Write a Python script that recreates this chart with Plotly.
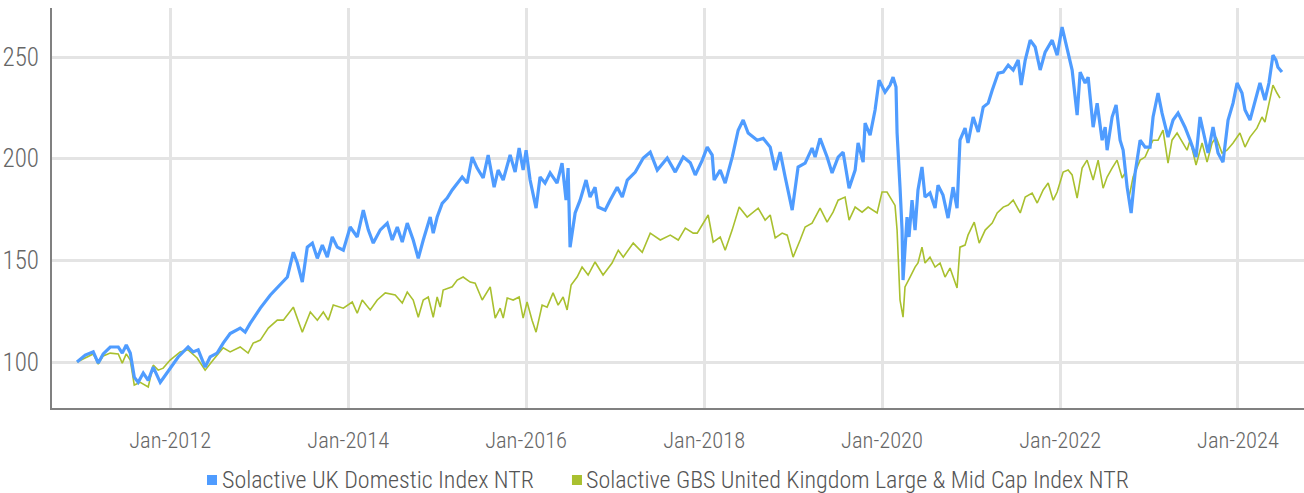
import plotly.graph_objects as go
import pandas as pd

# ---- data (dates as decimal years) ----
uk_domestic_years = [
    2010.952, 2011.045, 2011.135, 2011.191, 2011.247, 2011.326, 2011.416, 2011.461, 2011.506, 2011.551,
    2011.596, 2011.640, 2011.697, 2011.753, 2011.809, 2011.888, 2011.921, 2012.000, 2012.090, 2012.202,
    2012.258, 2012.315, 2012.393, 2012.449, 2012.528, 2012.596, 2012.674, 2012.787, 2012.843, 2012.899,
    2013.011, 2013.124, 2013.213, 2013.258, 2013.315, 2013.382, 2013.427, 2013.483, 2013.539, 2013.596,
    2013.652, 2013.708, 2013.764, 2013.820, 2013.876, 2013.944, 2014.022, 2014.101, 2014.169, 2014.225,
    2014.281, 2014.360, 2014.438, 2014.494, 2014.551, 2014.607, 2014.663, 2014.730, 2014.787, 2014.843,
    2014.921, 2014.955, 2015.000, 2015.056, 2015.112, 2015.169, 2015.225, 2015.281, 2015.337, 2015.393,
    2015.449, 2015.517, 2015.573, 2015.640, 2015.685, 2015.742, 2015.820, 2015.876, 2015.921, 2015.966,
    2016.000, 2016.045, 2016.112, 2016.157, 2016.213, 2016.270, 2016.348, 2016.404, 2016.449, 2016.472,
    2016.494, 2016.551, 2016.607, 2016.674, 2016.719, 2016.775, 2016.809, 2016.888, 2016.944, 2017.022,
    2017.079, 2017.135, 2017.225, 2017.315, 2017.393, 2017.472, 2017.584, 2017.674, 2017.764, 2017.843,
    2017.899, 2017.978, 2018.034, 2018.090, 2018.112, 2018.180, 2018.236, 2018.315, 2018.382, 2018.438,
    2018.494, 2018.596, 2018.663, 2018.742, 2018.798, 2018.854, 2018.910, 2018.989, 2019.056, 2019.135,
    2019.213, 2019.247, 2019.303, 2019.382, 2019.438, 2019.506, 2019.562, 2019.629, 2019.697, 2019.730,
    2019.787, 2019.809, 2019.865, 2019.921, 2019.966, 2020.034, 2020.090, 2020.124, 2020.157, 2020.169,
    2020.202, 2020.225, 2020.236, 2020.281, 2020.303, 2020.337, 2020.371, 2020.404, 2020.449, 2020.483,
    2020.539, 2020.596, 2020.629, 2020.685, 2020.742, 2020.798, 2020.843, 2020.876, 2020.933, 2020.966,
    2021.022, 2021.079, 2021.135, 2021.191, 2021.236, 2021.303, 2021.360, 2021.416, 2021.472, 2021.528,
    2021.562, 2021.607, 2021.663, 2021.719, 2021.775, 2021.831, 2021.910, 2021.966, 2022.022, 2022.079,
    2022.135, 2022.191, 2022.225, 2022.281, 2022.315, 2022.371, 2022.416, 2022.472, 2022.506, 2022.528,
    2022.584, 2022.629, 2022.674, 2022.708, 2022.753, 2022.798, 2022.843, 2022.899, 2022.955, 2023.011,
    2023.045, 2023.101, 2023.146, 2023.213, 2023.270, 2023.326, 2023.404, 2023.461, 2023.528, 2023.573,
    2023.629, 2023.663, 2023.719, 2023.775, 2023.831, 2023.888, 2023.944, 2023.989, 2024.045, 2024.079,
    2024.135, 2024.191, 2024.247, 2024.303, 2024.348, 2024.393, 2024.427, 2024.449, 2024.494,
]
uk_domestic_values = [
    100.0, 103.4, 105.0, 99.5, 104.0, 107.4, 107.4, 104.4, 108.4, 104.4,
    92.6, 90.0, 94.6, 91.0, 97.5, 90.0, 92.0, 97.0, 102.5, 107.4,
    105.0, 106.0, 97.5, 102.5, 104.4, 109.3, 114.0, 116.7, 114.7, 119.0,
    126.5, 133.0, 137.0, 139.0, 141.8, 154.0, 148.7, 139.3, 156.5, 158.5,
    151.0, 157.5, 151.6, 161.5, 156.5, 155.0, 166.4, 161.5, 174.7, 165.0,
    158.5, 165.0, 168.3, 160.0, 166.4, 159.0, 168.3, 160.0, 151.0, 160.0,
    171.3, 163.4, 171.3, 178.0, 180.6, 184.6, 188.0, 191.0, 188.0, 200.8,
    195.4, 190.5, 201.8, 186.0, 194.4, 189.5, 201.8, 193.4, 205.2, 194.4,
    204.2, 189.5, 175.7, 191.0, 188.0, 193.0, 188.0, 197.8, 179.6, 195.4,
    156.5, 173.3, 179.6, 189.5, 181.1, 186.0, 176.2, 174.7, 179.6, 186.0,
    181.1, 189.5, 193.4, 200.3, 203.2, 194.4, 200.3, 193.4, 200.8, 198.0,
    192.0, 199.3, 205.7, 201.8, 189.5, 194.4, 188.0, 200.8, 214.0, 219.0,
    212.6, 209.1, 210.0, 205.7, 194.4, 203.2, 191.0, 174.7, 195.9, 197.8,
    205.2, 200.8, 210.0, 200.8, 193.0, 200.8, 203.2, 185.5, 194.4, 207.7,
    198.3, 217.5, 211.6, 223.9, 238.6, 232.7, 236.2, 240.1, 235.2, 212.6,
    186.0, 164.9, 140.3, 171.3, 161.5, 179.6, 164.9, 184.6, 195.9, 181.1,
    183.1, 175.7, 187.0, 182.1, 170.8, 186.0, 175.7, 209.1, 215.0, 207.7,
    220.5, 213.1, 225.4, 227.3, 233.7, 242.1, 242.6, 246.0, 243.6, 248.5,
    236.2, 248.5, 258.3, 254.9, 243.6, 252.4, 258.3, 250.9, 264.7, 253.4,
    243.6, 221.4, 242.6, 237.2, 240.1, 215.5, 227.3, 209.1, 215.5, 204.2,
    220.5, 226.4, 209.1, 204.2, 186.0, 173.3, 193.0, 209.1, 205.7, 205.7,
    220.5, 232.3, 222.4, 210.6, 219.0, 222.4, 215.5, 209.1, 200.8, 220.5,
    209.1, 202.8, 215.5, 202.8, 198.3, 219.0, 227.3, 237.2, 232.3, 223.9,
    219.0, 227.8, 237.2, 228.8, 237.2, 250.9, 248.5, 245.0, 242.6,
]

uk_large_mid_years = [
    2010.952, 2011.045, 2011.135, 2011.191, 2011.247, 2011.326, 2011.416, 2011.461, 2011.506, 2011.551,
    2011.596, 2011.663, 2011.753, 2011.809, 2011.865, 2011.921, 2012.000, 2012.112, 2012.202, 2012.303,
    2012.393, 2012.483, 2012.596, 2012.674, 2012.787, 2012.876, 2012.933, 2013.011, 2013.101, 2013.202,
    2013.270, 2013.382, 2013.483, 2013.573, 2013.652, 2013.719, 2013.775, 2013.831, 2013.944, 2014.045,
    2014.101, 2014.157, 2014.247, 2014.326, 2014.416, 2014.528, 2014.607, 2014.663, 2014.730, 2014.787,
    2014.843, 2014.899, 2014.955, 2015.000, 2015.034, 2015.067, 2015.169, 2015.225, 2015.292, 2015.371,
    2015.427, 2015.506, 2015.596, 2015.652, 2015.708, 2015.742, 2015.787, 2015.854, 2015.921, 2015.966,
    2016.011, 2016.067, 2016.112, 2016.180, 2016.236, 2016.303, 2016.360, 2016.416, 2016.461, 2016.506,
    2016.573, 2016.629, 2016.697, 2016.775, 2016.865, 2016.966, 2017.034, 2017.090, 2017.202, 2017.303,
    2017.393, 2017.506, 2017.618, 2017.708, 2017.787, 2017.876, 2017.921, 2018.045, 2018.101, 2018.180,
    2018.236, 2018.315, 2018.393, 2018.483, 2018.607, 2018.685, 2018.742, 2018.798, 2018.876, 2018.933,
    2019.000, 2019.079, 2019.135, 2019.213, 2019.303, 2019.382, 2019.449, 2019.506, 2019.584, 2019.629,
    2019.697, 2019.775, 2019.843, 2019.944, 2020.000, 2020.056, 2020.112, 2020.146, 2020.169, 2020.202,
    2020.236, 2020.258, 2020.315, 2020.371, 2020.404, 2020.449, 2020.483, 2020.539, 2020.596, 2020.652,
    2020.708, 2020.764, 2020.843, 2020.876, 2020.933, 2020.966, 2021.034, 2021.090, 2021.157, 2021.236,
    2021.292, 2021.360, 2021.416, 2021.472, 2021.551, 2021.607, 2021.685, 2021.742, 2021.809, 2021.865,
    2021.921, 2021.966, 2022.034, 2022.090, 2022.135, 2022.191, 2022.247, 2022.303, 2022.371, 2022.427,
    2022.483, 2022.528, 2022.584, 2022.640, 2022.697, 2022.730, 2022.775, 2022.820, 2022.899, 2022.955,
    2022.989, 2023.045, 2023.101, 2023.157, 2023.213, 2023.258, 2023.315, 2023.371, 2023.427, 2023.461,
    2023.528, 2023.596, 2023.652, 2023.708, 2023.753, 2023.820, 2023.876, 2023.944, 2024.022, 2024.079,
    2024.135, 2024.213, 2024.270, 2024.303, 2024.337, 2024.393, 2024.438, 2024.472,
]
uk_large_mid_values = [
    100.0, 102.0, 104.0, 99.0, 103.0, 104.4, 104.0, 99.5, 104.0, 101.0,
    88.7, 90.0, 87.7, 98.5, 96.0, 97.0, 101.0, 105.0, 106.0, 102.0,
    96.0, 101.0, 107.0, 105.0, 107.4, 104.4, 109.3, 110.8, 116.7, 120.6,
    120.6, 127.0, 114.7, 124.6, 120.6, 124.6, 120.6, 128.0, 126.5, 129.5,
    124.0, 130.5, 125.6, 130.5, 134.0, 133.0, 129.0, 134.4, 130.5, 122.0,
    130.5, 132.0, 122.0, 132.0, 127.0, 135.4, 137.0, 140.3, 141.8, 139.3,
    138.8, 130.5, 137.0, 121.6, 126.5, 121.6, 131.5, 130.5, 132.0, 121.6,
    129.5, 120.6, 114.7, 128.0, 127.0, 134.0, 128.0, 132.0, 125.6, 137.9,
    141.8, 146.7, 142.8, 149.2, 142.8, 148.7, 155.0, 151.6, 158.5, 154.0,
    163.4, 160.0, 162.4, 160.0, 165.9, 163.4, 163.4, 172.3, 159.0, 161.5,
    155.0, 165.0, 176.2, 171.3, 175.7, 169.8, 172.3, 161.0, 163.4, 162.4,
    151.6, 160.0, 166.4, 168.3, 175.7, 168.8, 173.7, 179.6, 181.1, 169.8,
    176.2, 173.7, 176.2, 173.3, 183.6, 183.6, 179.6, 177.0, 164.9, 130.5,
    122.1, 136.9, 141.8, 146.7, 148.7, 156.5, 148.7, 151.6, 146.7, 148.7,
    141.8, 146.2, 136.4, 156.5, 157.5, 162.4, 168.8, 158.5, 164.9, 168.3,
    173.3, 176.2, 177.2, 179.6, 173.3, 181.1, 183.1, 178.2, 184.6, 188.0,
    179.6, 183.6, 193.4, 194.4, 192.0, 180.6, 195.4, 199.3, 189.5, 199.3,
    185.5, 191.0, 195.4, 199.3, 190.5, 193.0, 181.1, 191.0, 199.3, 200.8,
    204.2, 209.1, 209.1, 214.0, 197.8, 209.1, 212.6, 208.2, 204.2, 209.1,
    196.9, 207.7, 198.3, 207.7, 210.6, 202.8, 204.2, 207.7, 212.6, 205.7,
    210.6, 215.0, 220.5, 218.0, 225.4, 236.2, 232.3, 229.8,
]

series_names = [
    "Solactive UK Domestic Index NTR",
    "Solactive GBS United Kingdom Large & Mid Cap Index NTR",
]
series_colors = ["#4F9CFF", "#A9C02F"]
y_tick_values = [100, 150, 200, 250]
x_tick_dates = ["2012-01-01", "2014-01-01", "2016-01-01", "2018-01-01",
                "2020-01-01", "2022-01-01", "2024-01-01"]
x_range_dates = ["2010-09-03", "2024-09-28"]
y_range = [77.4, 274.1]


def to_dates(years):
    out = []
    for y in years:
        yr = int(y)
        start = pd.Timestamp(year=yr, month=1, day=1)
        out.append(start + pd.Timedelta(days=(y - yr) * 365.25))
    return out


FONT = "Roboto Condensed, Roboto, sans-serif"
X_TICK_SIZE = 22.5
Y_TICK_SIZE = 25
LEGEND_SIZE = 24

fig = go.Figure()
fig.add_trace(go.Scatter(
    x=to_dates(uk_large_mid_years), y=uk_large_mid_values, mode="lines",
    name=series_names[1], line=dict(color=series_colors[1], width=1.6),
    showlegend=False,
))
fig.add_trace(go.Scatter(
    x=to_dates(uk_domestic_years), y=uk_domestic_values, mode="lines",
    name=series_names[0], line=dict(color=series_colors[0], width=3.2),
    showlegend=False,
))

# legend drawn as squares + text below the plot (paper coordinates)
legend_x_text = [0.1350, 0.4258]
legend_x_square = [(0.1238, 0.1318), (0.4153, 0.4233)]
legend_y = -0.18
for i in range(2):
    fig.add_shape(
        type="rect", xref="paper", yref="paper",
        x0=legend_x_square[i][0], x1=legend_x_square[i][1],
        y0=legend_y - 0.0125, y1=legend_y + 0.0125,
        fillcolor=series_colors[i], line=dict(width=0),
    )
    fig.add_annotation(
        text=series_names[i], xref="paper", yref="paper",
        x=legend_x_text[i], y=legend_y, xanchor="left", yanchor="middle",
        showarrow=False, borderpad=0,
        font=dict(family=FONT, size=LEGEND_SIZE, color="#555555", weight=300),
    )

fig.update_layout(
    width=1304, height=493,
    margin=dict(l=52, r=0, t=8, b=85),
    paper_bgcolor="white", plot_bgcolor="white",
    font=dict(family=FONT, size=X_TICK_SIZE, color="#666666", weight=300),
    xaxis=dict(
        type="date", range=x_range_dates,
        tickvals=x_tick_dates, tickformat="%b-%Y",
        showgrid=True, gridcolor="#E4E4E4", gridwidth=2.5,
        showline=True, linecolor="#808080", linewidth=2,
        zeroline=False, ticks="", ticklabelstandoff=11,
        tickfont=dict(family=FONT, size=X_TICK_SIZE, color="#666666", weight=300),
    ),
    yaxis=dict(
        range=y_range, tickvals=y_tick_values,
        showgrid=True, gridcolor="#E4E4E4", gridwidth=2.5,
        showline=True, linecolor="#808080", linewidth=2,
        zeroline=False, ticks="", ticklabelstandoff=6,
        tickfont=dict(family=FONT, size=Y_TICK_SIZE, color="#666666", weight=300),
    ),
)

fig.write_html("out.html")
